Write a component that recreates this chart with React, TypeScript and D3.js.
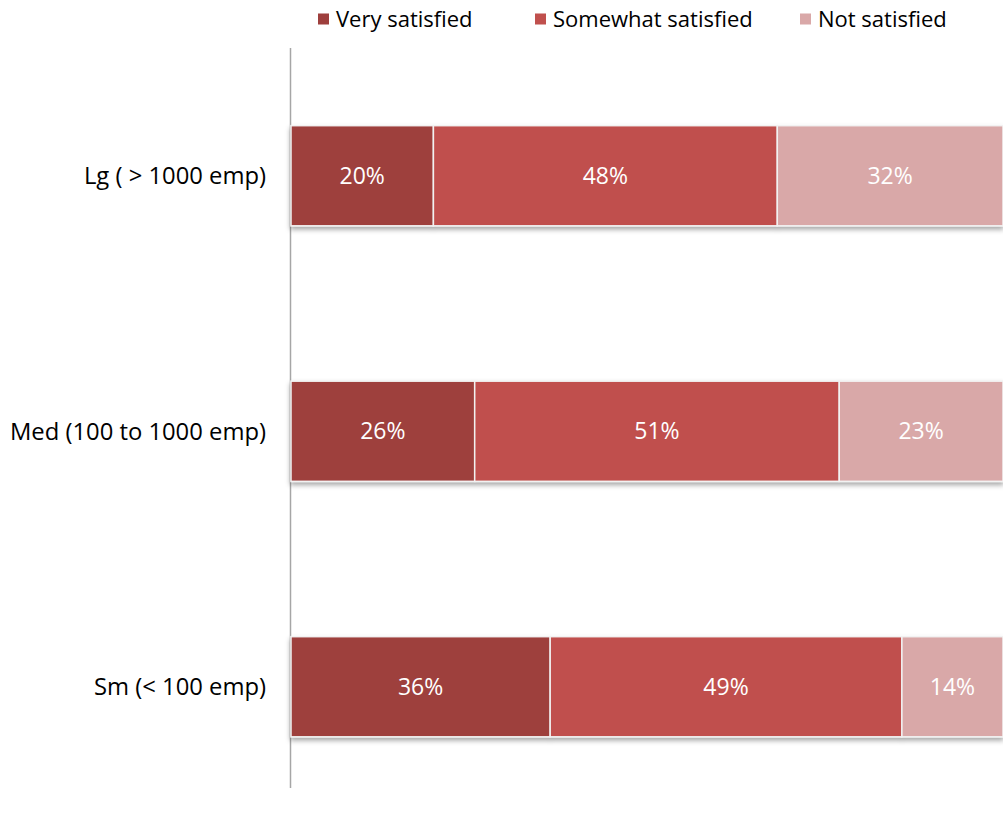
import React from "react";
import * as d3 from "d3";

const categories = ["Lg ( > 1000 emp)", "Med (100 to 1000 emp)", "Sm (< 100 emp)"];
const seriesNames = ["Very satisfied", "Somewhat satisfied", "Not satisfied"];
const verySatisfied = [20, 25.8, 36.4];
const somewhatSatisfied = [48.3, 51.2, 49.4];
const notSatisfied = [31.7, 23.0, 14.2];
const colors = ["#9E3F3D", "#C0504D", "#D9A8A8"];

const W = 1003;
const H = 815;
const FONT = "'Open Sans', 'Noto Sans', sans-serif";

export default function App() {
  const rows = categories.map((c, i) => ({
    cat: c,
    v: [verySatisfied[i], somewhatSatisfied[i], notSatisfied[i]],
  }));
  const x = d3.scaleLinear().domain([0, 1]).range([291, 1003]);
  const y = d3.scaleBand<string>().domain(categories).range([48, 814.5]).paddingInner(0.608).paddingOuter(0.304);

  const legendX = [318, 535, 800];

  return (
    <svg width={W} height={H} style={{ position: "absolute", left: 0, top: 0, background: "#fff" }}>
      <defs>
        <filter id="sh" x="-5%" y="-10%" width="110%" height="130%">
          <feDropShadow dx="0" dy="3" stdDeviation="2.5" floodColor="#000" floodOpacity="0.35" />
        </filter>
      </defs>
      {seriesNames.map((s, i) => (
        <g key={s}>
          <rect x={legendX[i]} y={13.5} width={11} height={11} fill={colors[i]} />
          <text x={legendX[i] + 18} y={19} dy="0.35em" fontFamily={FONT} fontSize={22} fill="#000">{s}</text>
        </g>
      ))}
      <line x1={290.5} x2={290.5} y1={48} y2={788} stroke="#A6A6A6" strokeWidth={1.5} />
      {rows.map((r) => {
        const total = d3.sum(r.v);
        const y0 = y(r.cat)!;
        const bh = y.bandwidth();
        const segs: { a: number; b: number; v: number }[] = [];
        let acc = 0;
        r.v.forEach((v) => {
          const a = acc / total;
          acc += v;
          segs.push({ a, b: acc / total, v });
        });
        return (
          <g key={r.cat}>
            <g filter="url(#sh)">
              {segs.map((s, j) => (
                <rect key={j} x={x(s.a)} y={y0} width={x(s.b) - x(s.a)} height={bh} fill={colors[j]} stroke="#F2F2F2" strokeWidth={1.5} />
              ))}
            </g>
            {segs.map((s, j) => (
              <text key={j} x={(x(s.a) + x(s.b)) / 2} y={y0 + bh / 2} dy="0.35em" textAnchor="middle" fontFamily={FONT} fontSize={23} fill="#fff">
                {Math.round(s.v)}%
              </text>
            ))}
            <text x={266} y={y0 + bh / 2} dy="0.35em" textAnchor="end" fontFamily={FONT} fontSize={23.8} fill="#000">{r.cat}</text>
          </g>
        );
      })}
    </svg>
  );
}
